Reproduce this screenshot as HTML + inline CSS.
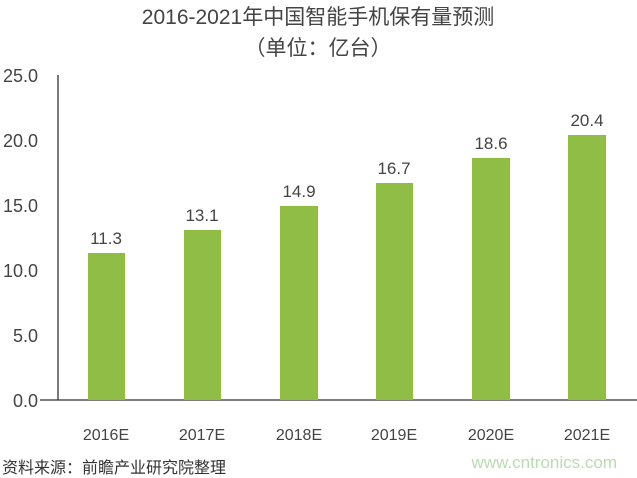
<!DOCTYPE html>
<html><head><meta charset="utf-8"><style>
body{margin:0;background:#fff;}
svg{display:block;font-family:"Liberation Sans","Noto Sans CJK SC",sans-serif;}
</style></head><body>
<svg width="637" height="478" xmlns="http://www.w3.org/2000/svg">
<text x="318" y="24" font-size="21" fill="#444" text-anchor="middle">2016-2021年中国智能手机保有量预测</text>
<text x="318" y="55" font-size="21" fill="#444" text-anchor="middle">（单位：亿台）</text>
<g font-size="18" fill="#444" text-anchor="end">
<text x="38" y="82">25.0</text>
<text x="38" y="147">20.0</text>
<text x="38" y="212">15.0</text>
<text x="38" y="277">10.0</text>
<text x="38" y="342">5.0</text>
<text x="38" y="407">0.0</text>
</g>
<line x1="58" y1="75" x2="58" y2="400" stroke="#333" stroke-width="1.3"/>
<line x1="40" y1="400" x2="637" y2="400" stroke="#333" stroke-width="1.3"/>
<g fill="#8fbd45">
<rect x="88" y="253" width="37" height="147"/>
<rect x="184" y="230" width="37" height="170"/>
<rect x="280" y="206" width="38" height="194"/>
<rect x="376" y="183" width="37" height="217"/>
<rect x="472" y="158" width="38" height="242"/>
<rect x="568" y="135" width="38" height="265"/>
</g>
<g font-size="17" fill="#444" text-anchor="middle">
<text x="106" y="244">11.3</text>
<text x="202" y="221">13.1</text>
<text x="299" y="197">14.9</text>
<text x="394" y="174">16.7</text>
<text x="491" y="149">18.6</text>
<text x="587" y="126">20.4</text>
</g>
<g font-size="16" fill="#444" text-anchor="middle">
<text x="106" y="440">2016E</text>
<text x="202" y="440">2017E</text>
<text x="299" y="440">2018E</text>
<text x="394" y="440">2019E</text>
<text x="491" y="440">2020E</text>
<text x="587" y="440">2021E</text>
</g>
<text x="2" y="473" font-size="16" fill="#333">资料来源：前瞻产业研究院整理</text>
<text x="617" y="468" font-size="17" fill="#b9dcb0" text-anchor="end">www.cntronics.com</text>
</svg>
</body></html>
